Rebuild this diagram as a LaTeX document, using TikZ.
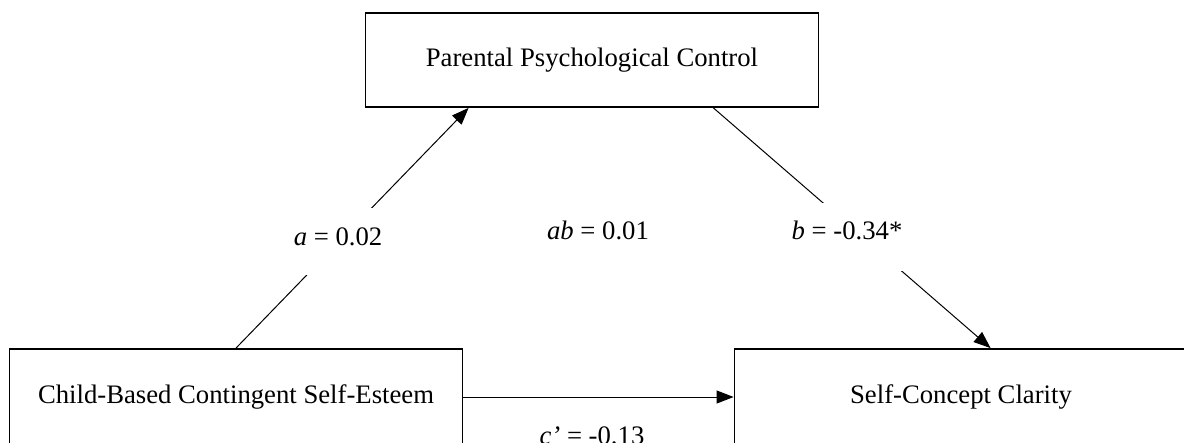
\documentclass[tikz,border=0pt]{standalone}
\usepackage{fontspec}
\setmainfont{Liberation Serif}
\usetikzlibrary{arrows.meta,calc}
\begin{document}
\begin{tikzpicture}[x=1pt,y=-1pt,
  box/.style={draw,line width=1.8pt,minimum width=453pt,minimum height=94pt,inner sep=0pt,font=\fontsize{26.7}{31}\selectfont},
  conn/.style={line width=1pt,-{Triangle[length=17pt,width=13pt]}},
  lab/.style={fill=white,inner xsep=3pt,inner ysep=0pt,font=\fontsize{26.7}{31}\selectfont},
  plain/.style={inner sep=0pt,font=\fontsize{26.7}{31}\selectfont}]
\useasboundingbox (0,0) rectangle (1184,442);
\clip (0,0) rectangle (1184,442);
\node[box] (ppc) at (592,60) {Parental Psychological Control};
\node[box,minimum height=96pt] (cbse) at (236,397) {Child-Based Contingent Self-Esteem};
\node[box,minimum height=96pt] (scc) at (961,397) {Self-Concept Clarity};
\draw[conn] (cbse.north) -- ($(ppc.south west)+(104,0)$);
\draw[conn] ($(ppc.south east)+(-106,0)$) -- ($(scc.north west)+(257,0)$);
\draw[conn] (cbse.east) -- (scc.west);
\node[lab,text height=37pt,text depth=30pt] (la) at (338,241.5) {\textit{a} = 0.02};
\node[lab,text height=36.5pt,text depth=31.5pt] (lb) at (847,237) {\textit{b} = -0.34*};
\node[plain,anchor=base] (lab) at (598,239) {\textit{ab} = 0.01};
\node[plain,anchor=base] (lc) at (592,444) {\textit{c’} = -0.13};
\end{tikzpicture}
\end{document}
